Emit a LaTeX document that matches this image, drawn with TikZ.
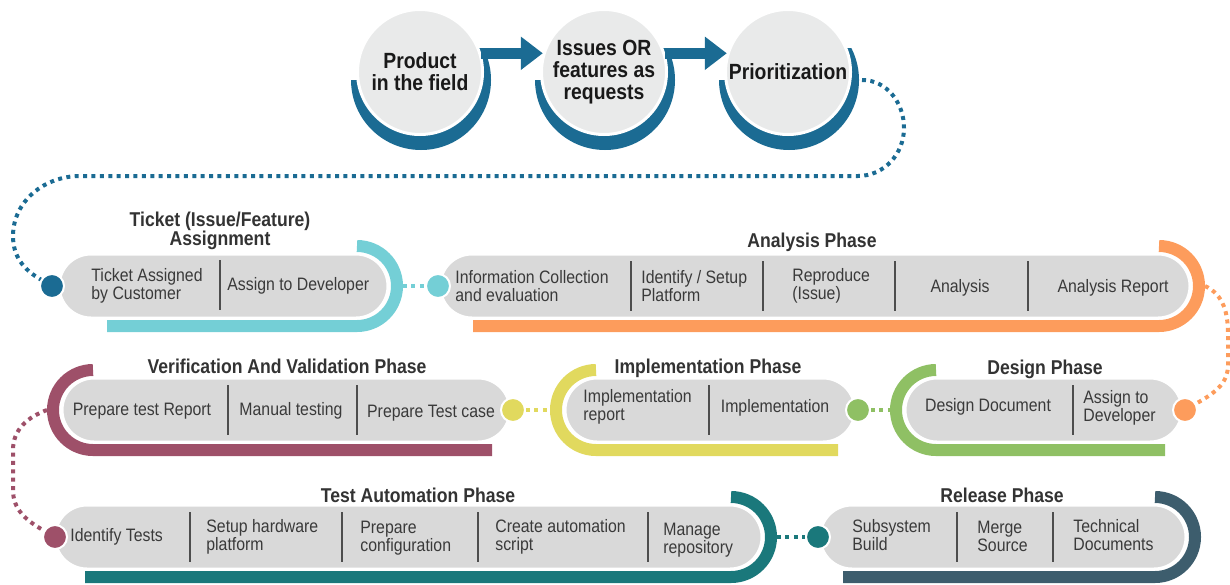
\documentclass[tikz,border=0pt]{standalone}
\usepackage{fontspec}
\newfontfamily\condfont{Liberation Sans}[FakeStretch=0.88]
\usetikzlibrary{arrows.meta,calc,shapes.misc}

\definecolor{topblue}{HTML}{1B6B93}
\definecolor{cyanc}{HTML}{74CFD6}
\definecolor{orangec}{HTML}{FD9C5C}
\definecolor{greenc}{HTML}{8FC064}
\definecolor{yellowc}{HTML}{E1D95E}
\definecolor{maroonc}{HTML}{9E5069}
\definecolor{tealc}{HTML}{1A787B}
\definecolor{slatec}{HTML}{3D5D6D}
\definecolor{pillgray}{HTML}{D9D9D9}
\definecolor{circgray}{HTML}{E9EAEA}
\definecolor{titlec}{HTML}{333333}
\definecolor{textc}{HTML}{3A3A3A}
\definecolor{divc}{HTML}{4D4D4D}

\tikzset{
  pill/.style={rounded rectangle, fill=pillgray, draw=white, line width=1.5pt,
    minimum height=32pt, inner sep=0pt},
  ring/.style={draw=#1, line width=6pt, rounded corners=20pt},
  dot/.style={circle, fill=#1, draw=white, line width=1pt, minimum size=12pt, inner sep=0pt},
  dotline/.style={draw=#1, line width=2pt, dash pattern=on 2pt off 2.2pt},
  topcircle/.style={circle, fill=circgray, draw=white, line width=1.5pt,
    minimum size=62.5pt, inner sep=0pt, align=center, text=black!90,
    font=\condfont\bfseries\fontsize{11}{11}\selectfont},
  flowarrow/.style={draw=topblue, line width=5.5pt, -{Triangle[width=16pt,length=11pt]}},
  phase/.style={font=\condfont\bfseries\fontsize{10}{9.5}\selectfont, text=titlec,
    align=center, inner sep=0pt},
  item/.style={font=\condfont\fontsize{9}{9}\selectfont, text=textc, align=left, inner sep=0pt},
  divider/.style={draw=divc, line width=0.8pt},
}

\begin{document}
\begin{tikzpicture}[x=0.5pt, y=-0.5pt]
  \useasboundingbox (0,0) rectangle (1230,584);

  % blue half rings under the three top circles
  \begin{scope}
    \clip (340,80) rectangle (421,160) (421,48) rectangle (510,160);
    \fill[topblue] (421,80) circle[radius=35pt];
  \end{scope}
  \begin{scope}
    \clip (524,80) rectangle (605,160) (605,48) rectangle (694,160);
    \fill[topblue] (605,80) circle[radius=35pt];
  \end{scope}
  \begin{scope}
    \clip (708,80) rectangle (789,160) (789,48) rectangle (878,160);
    \fill[topblue] (789,80) circle[radius=35pt];
  \end{scope}

  \node[topcircle] (prod) at (420,72) {Product\\in the field};
  \node[topcircle] (issues) at (604,72) {Issues OR\\features as\\requests};
  \node[topcircle] (prio) at (788,72) {Prioritization};
  \draw[flowarrow] (prod.17) -- (issues.163);
  \draw[flowarrow] (issues.17) -- (prio.163);

  % coloured rings round the pill ends
  \draw[ring=cyanc] (357,246) -- (397,246) -- (397,326) -- (107,326);
  \draw[ring=orangec] (1159,246) -- (1199,246) -- (1199,326) -- (473,326);
  \draw[ring=maroonc] (93,370) -- (53,370) -- (53,450) -- (492,450);
  \draw[ring=yellowc] (596,370) -- (556,370) -- (556,450) -- (838,450);
  \draw[ring=greenc] (936,370) -- (896,370) -- (896,450) -- (1165,450);
  \draw[ring=tealc] (731,497) -- (771,497) -- (771,577) -- (85,577);
  \draw[ring=slatec] (1155,497) -- (1195,497) -- (1195,577) -- (843,577);

  % phase pills
  \node[pill, minimum width=164.5pt] (ticket) at (223.5,286) {};
  \node[pill, minimum width=375pt] (analysis) at (815,286) {};
  \node[pill, minimum width=224pt] (verif) at (286,410) {};
  \node[pill, minimum width=145pt] (impl) at (710,410) {};
  \node[pill, minimum width=138.5pt] (design) at (1043.5,410) {};
  \node[pill, minimum width=353.5pt] (testauto) at (408.5,537) {};
  \node[pill, minimum width=183pt] (release) at (1003,537) {};

  % titles
  \node[phase] (tickettitle) at (220,231) {Ticket (Issue/Feature)\\Assignment};
  \node[phase] (analysistitle) at (812,242) {Analysis Phase};
  \node[phase] (veriftitle) at (287,366) {Verification And Validation Phase};
  \node[phase] (impltitle) at (708,368) {Implementation Phase};
  \node[phase] (designtitle) at (1045,369) {Design Phase};
  \node[phase] (testtitle) at (418,495) {Test Automation Phase};
  \node[phase] (releasetitle) at (1002,495) {Release Phase};

  % ticket
  \draw[divider] (220,260) -- (220,310);
  \node[item, anchor=west] (t1) at (91,286) {Ticket Assigned\\by Customer};
  \node[item, anchor=west] (t2) at (227,286) {Assign to Developer};

  % analysis
  \draw[divider] (631,261) -- (631,311);
  \draw[divider] (763,261) -- (763,311);
  \draw[divider] (895,261) -- (895,311);
  \draw[divider] (1028,261) -- (1028,311);
  \node[item, anchor=west] (a1) at (455,286) {Information Collection\\and evaluation};
  \node[item, anchor=west] (a2) at (641,286) {Identify / Setup\\Platform};
  \node[item, anchor=west] (a3) at (792,286) {Reproduce\\(Issue)};
  \node[item] (a4) at (960,288) {Analysis};
  \node[item] (a5) at (1113,288) {Analysis Report};

  % verification and validation
  \draw[divider] (228,385) -- (228,435);
  \draw[divider] (357,385) -- (357,435);
  \node[item] (v1) at (142,411) {Prepare test Report};
  \node[item] (v2) at (291,411) {Manual testing};
  \node[item] (v3) at (431,413) {Prepare Test case};

  % implementation
  \draw[divider] (709,385) -- (709,435);
  \node[item, anchor=west] (i1) at (583,407) {Implementation\\report};
  \node[item] (i2) at (775,408) {Implementation};

  % design
  \draw[divider] (1073,385) -- (1073,435);
  \node[item] (g1) at (988,407) {Design Document};
  \node[item, anchor=west] (g2) at (1083,408) {Assign to\\Developer};

  % test automation
  \draw[divider] (190,512) -- (190,562);
  \draw[divider] (342,512) -- (342,562);
  \draw[divider] (478,512) -- (478,562);
  \draw[divider] (648,512) -- (648,562);
  \node[item, anchor=west] (s1) at (70,537) {Identify Tests};
  \node[item, anchor=west] (s2) at (206,537) {Setup hardware\\platform};
  \node[item, anchor=west] (s3) at (360,538) {Prepare\\configuration};
  \node[item, anchor=west] (s4) at (495,537) {Create automation\\script};
  \node[item, anchor=west] (s5) at (663,540) {Manage\\repository};

  % release
  \draw[divider] (957,512) -- (957,562);
  \draw[divider] (1053,512) -- (1053,562);
  \node[item, anchor=west] (r1) at (852,535) {Subsystem\\Build};
  \node[item, anchor=west] (r2) at (977,536) {Merge\\Source};
  \node[item, anchor=west] (r3) at (1073,535) {Technical\\Documents};

  % hand-over dots
  \node[dot=topblue] (dB) at (52,286) {};
  \node[dot=cyanc] (dC) at (438,286) {};
  \node[dot=orangec] (dO) at (1185,410) {};
  \node[dot=greenc] (dG) at (858,410) {};
  \node[dot=yellowc] (dY) at (513,410) {};
  \node[dot=maroonc] (dM) at (55,537) {};
  \node[dot=tealc] (dT) at (818,537) {};

  \coordinate (prioring) at ($(prio.center)+(74,8)$);
  \coordinate (ticketring) at (403,286);
  \coordinate (analysisring) at (1205,286);
  \coordinate (verifring) at (47,410);
  \coordinate (implring) at (550,410);
  \coordinate (designring) at (890,410);
  \coordinate (testring) at (777,537);

  % dotted links
  \draw[dotline=topblue] (prioring) to[out=0, in=90] (904,128) to[out=-90, in=0] (858,176)
    -- (80,176) to[out=180, in=90] (13,236) to[out=-90, in=150] (dB);
  \draw[dotline=cyanc] (ticketring) -- (dC);
  \draw[dotline=orangec] (analysisring) to[out=-25, in=90] (1228,335)
    -- (1228,365) to[out=-90, in=30] (dO);
  \draw[dotline=greenc] (dG) -- (designring);
  \draw[dotline=yellowc] (dY) -- (implring);
  \draw[dotline=maroonc] (verifring) to[out=200, in=90] (13,450)
    -- (13,490) to[out=-90, in=150] (dM);
  \draw[dotline=tealc] (testring) -- (dT);
\end{tikzpicture}
\end{document}
